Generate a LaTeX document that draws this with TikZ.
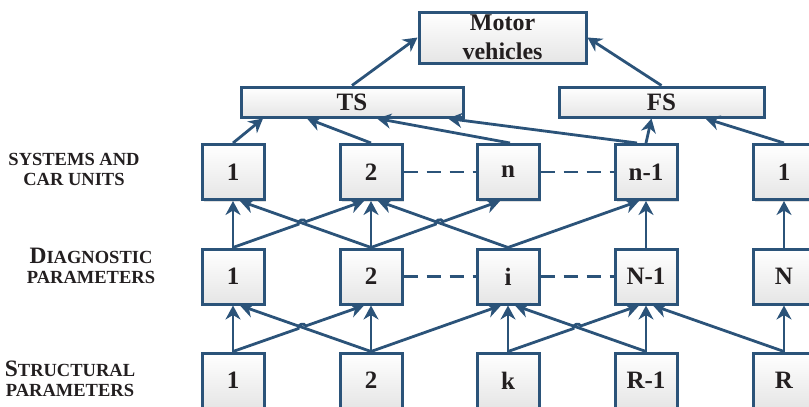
\documentclass[tikz,border=0pt]{standalone}
\usepackage{fontspec}
\setmainfont{Liberation Serif}
\usetikzlibrary{arrows.meta,shadows,calc,intersections}
\definecolor{edge}{HTML}{2B5379}
\definecolor{ink}{HTML}{231F20}
\tikzset{
  box/.style={draw=edge, line width=3pt, top color=white, bottom color=black!10,
    inner sep=0pt, text=ink, font=\fontsize{25}{28}\selectfont\bfseries,
    drop shadow={opacity=0.25, shadow xshift=2pt, shadow yshift=-2pt}},
  unit/.style={box, minimum width=62pt, minimum height=55pt},
  conn/.style={draw=edge, line width=2.8pt, -{Stealth[length=14pt,width=15pt,inset=4.5pt]}},
  link/.style={draw=edge, line width=2.8pt, dash pattern=on 14pt off 9pt},
  lbl/.style={align=center, text=ink, font=\fontsize{18.5}{20}\selectfont\bfseries},
  hop/.style={bend left=90, looseness=1.3}
}
\newcommand\initcap[1]{{\fontsize{23.5}{20}\selectfont #1}}
\begin{document}
\begin{tikzpicture}[x=1pt, y=-1pt]
\useasboundingbox (0,0) rectangle (809,407);
\clip (0,0) rectangle (809,407);

% top level
\node[box, minimum width=167pt, minimum height=51pt, align=center,
      font=\fontsize{24}{29}\selectfont\bfseries] (mv) at (502.5,37.5) {Motor\\vehicles};
\node[box, minimum width=222pt, minimum height=30pt] (ts) at (352,102) {TS};
\node[box, minimum width=205pt, minimum height=30pt] (fs) at (661.5,102) {FS};

% systems and car units
\node[unit] (s1) at (233,172) {1};
\node[unit] (s2) at (371,172) {2};
\node[unit] (sn) at (508,172) {n};
\node[unit] (sm) at (646,172) {n-1};
\node[unit] (sr) at (784,172) {1};

% diagnostic parameters
\node[unit] (d1) at (233,276.5) {1};
\node[unit] (d2) at (371,276.5) {2};
\node[unit] (di) at (508,276.5) {i};
\node[unit] (dm) at (646,276.5) {N-1};
\node[unit] (dn) at (784,276.5) {N};

% structural parameters
\node[unit] (t1) at (233,380.5) {1};
\node[unit] (t2) at (371,380.5) {2};
\node[unit] (tk) at (508,380.5) {k};
\node[unit] (tm) at (646,380.5) {R-1};
\node[unit] (tr) at (784,380.5) {R};

% row captions
\node[lbl] (lsys) at (74,169) {SYSTEMS AND\\CAR UNITS};
\node[lbl] (ldiag) at (91,266) {\initcap{D}IAGNOSTIC\\PARAMETERS};
\node[lbl] (lstr) at (70,379) {\initcap{S}TRUCTURAL\\PARAMETERS};

% dashed links inside rows
\draw[link] (s2) -- (sn);
\draw[link] (sn) -- (sm);
\draw[link] (d2) -- (di);
\draw[link] (di) -- (dm);

% end points shifted along the box bottoms
\coordinate (d1r) at ([xshift=7pt]d1.south);
\coordinate (d2l) at ([xshift=-7pt]d2.south);
\coordinate (dil) at ([xshift=-7pt]di.south);
\coordinate (dir) at ([xshift=7pt]di.south);
\coordinate (dml) at ([xshift=-7pt]dm.south);
\coordinate (dmr) at ([xshift=7pt]dm.south);
\coordinate (s1r) at ([xshift=7pt]s1.south);
\coordinate (s2l) at ([xshift=-7pt]s2.south);
\coordinate (s2r) at ([xshift=7pt]s2.south);
\coordinate (snl) at ([xshift=-8pt]sn.south);
\coordinate (sml) at ([xshift=-7pt]sm.south);

% crossings that get a hop
\path[name path=a1] (t1.north) -- (d2l);
\path[name path=b1] (t2.north) -- (d1r);
\path[name intersections={of=a1 and b1, by=h1}];
\path[name path=a2] (tk.north) -- (dml);
\path[name path=b2] (tm.north) -- (dir);
\path[name intersections={of=a2 and b2, by=h2}];
\path[name path=a3] (d1.north) -- (s2l);
\path[name path=b3] (d2.north) -- (s1r);
\path[name intersections={of=a3 and b3, by=h3}];
\path[name path=a4] (d2.north) -- (snl);
\path[name path=b4] (di.north) -- (s2r);
\path[name intersections={of=a4 and b4, by=h4}];

% structural -> diagnostic
\draw[conn] (t1.north) -- (d1.south);
\draw[conn] (t1.north) -- ($(h1)!4pt!(t1.north)$) to[hop] ($(h1)!4pt!(d2l)$) -- (d2l);
\draw[conn] (t2.north) -- (d1r);
\draw[conn] (t2.north) -- (d2.south);
\draw[conn] (t2.north) -- (dil);
\draw[conn] (tk.north) -- (di.south);
\draw[conn] (tk.north) -- ($(h2)!4pt!(tk.north)$) to[hop] ($(h2)!4pt!(dml)$) -- (dml);
\draw[conn] (tm.north) -- (dir);
\draw[conn] (tm.north) -- (dm.south);
\draw[conn] (tr.north) -- (dmr);
\draw[conn] (tr.north) -- (dn.south);

% diagnostic -> systems
\draw[conn] (d1.north) -- (s1.south);
\draw[conn] (d1.north) -- ($(h3)!4pt!(d1.north)$) to[hop] ($(h3)!4pt!(s2l)$) -- (s2l);
\draw[conn] (d2.north) -- (s1r);
\draw[conn] (d2.north) -- (s2.south);
\draw[conn] (d2.north) -- ($(h4)!4pt!(d2.north)$) to[hop] ($(h4)!4pt!(snl)$) -- (snl);
\draw[conn] (di.north) -- (s2r);
\draw[conn] (di.north) -- (sml);
\draw[conn] (dm.north) -- (sm.south);
\draw[conn] (dn.north) -- (sr.south);

% systems -> TS / FS
\draw[conn] (s1.north) -- ([xshift=-89pt]ts.south);
\draw[conn] (s2.north) -- ([xshift=-45pt]ts.south);
\draw[conn] ([xshift=2pt]sn.north) -- ([xshift=25pt]ts.south);
\draw[conn] ([xshift=-9pt]sm.north) -- ([xshift=96pt]ts.south);
\draw[conn] (sm.north) -- ([xshift=-10pt]fs.south);
\draw[conn] (sr.north) -- ([xshift=44pt]fs.south);

% TS / FS -> motor vehicles
\draw[conn] (ts.north) -- (mv.west);
\draw[conn] (fs.north) -- (mv.east);
\end{tikzpicture}
\end{document}
